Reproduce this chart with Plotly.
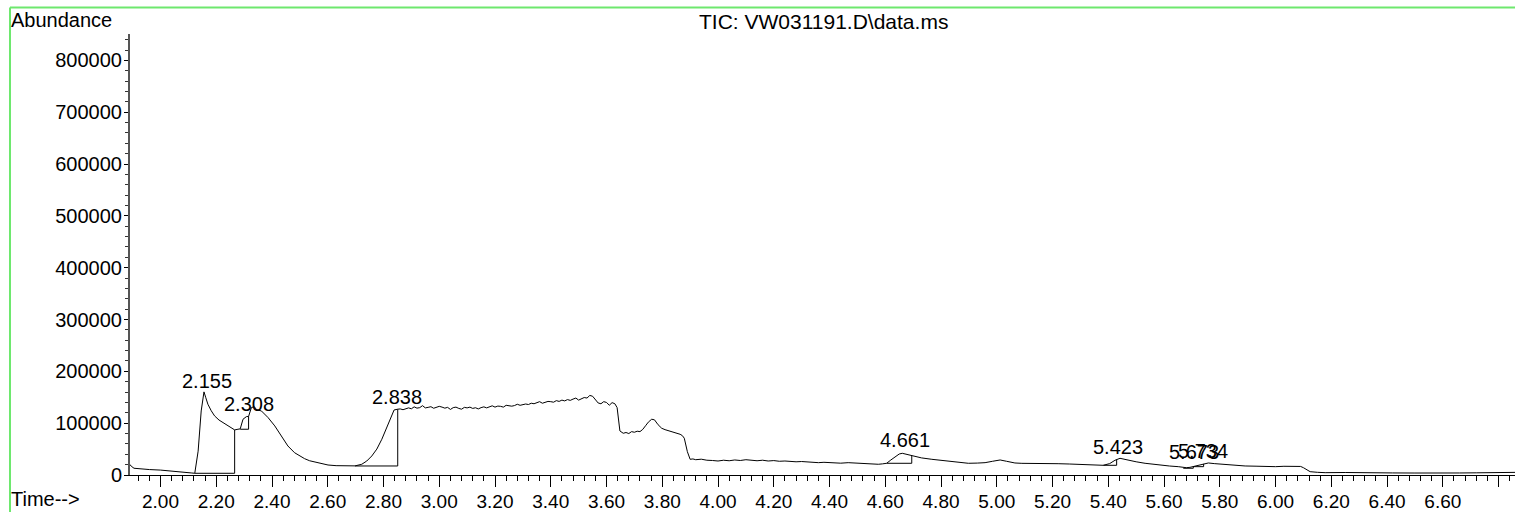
import numpy as np
import plotly.graph_objects as go

# ---- chromatogram trace (retention time in min, abundance) ----
rt_min = [
    1.890, 1.895, 1.905, 1.930, 1.960, 2.000, 2.040, 2.080, 2.110, 2.123,
    2.135, 2.146, 2.156, 2.162, 2.170, 2.182, 2.194, 2.210, 2.230, 2.250,
    2.266, 2.278, 2.286, 2.296, 2.308, 2.316, 2.326, 2.336, 2.345, 2.362,
    2.386, 2.410, 2.433, 2.457, 2.481, 2.500, 2.517, 2.535, 2.553, 2.580,
    2.601, 2.630, 2.661, 2.685, 2.698, 2.722, 2.740, 2.758, 2.776, 2.794,
    2.806, 2.817, 2.828, 2.838, 2.851,
    2.86, 2.87, 2.88, 2.89, 2.90, 2.91, 2.92, 2.93, 2.94, 2.95,
    2.96, 2.97, 2.98, 2.99, 3.00, 3.01, 3.02, 3.03, 3.04, 3.05,
    3.06, 3.07, 3.08, 3.09, 3.10, 3.11, 3.12, 3.13, 3.14, 3.15,
    3.16, 3.17, 3.18, 3.19, 3.20, 3.21, 3.22, 3.23, 3.24, 3.25,
    3.26, 3.27, 3.28, 3.29, 3.30, 3.31, 3.32, 3.33, 3.34, 3.35,
    3.36, 3.37, 3.38, 3.39, 3.40, 3.41, 3.42, 3.43, 3.44, 3.45,
    3.46, 3.47, 3.48, 3.49, 3.50, 3.51, 3.52, 3.53, 3.54, 3.55,
    3.56, 3.57, 3.58, 3.59, 3.60, 3.61, 3.62, 3.63, 3.638, 3.648,
    3.66, 3.67, 3.68, 3.69, 3.70, 3.71, 3.72, 3.73, 3.74, 3.75,
    3.762, 3.772, 3.785, 3.798, 3.81, 3.82, 3.834, 3.85, 3.864, 3.872,
    3.879, 3.89, 3.900, 3.91, 3.92, 3.94, 3.96, 3.98, 4.00, 4.02,
    4.04, 4.06, 4.08, 4.10, 4.12, 4.14, 4.16, 4.18, 4.20, 4.22,
    4.24, 4.26, 4.28, 4.30, 4.32, 4.34, 4.36, 4.38, 4.40, 4.42,
    4.44, 4.467, 4.50, 4.53, 4.56, 4.575, 4.59, 4.605, 4.62, 4.635,
    4.65, 4.661, 4.672, 4.683, 4.695, 4.707, 4.73, 4.767, 4.80, 4.826,
    4.86, 4.898, 4.93, 4.958, 4.985, 5.012, 5.035, 5.065, 5.09, 5.125,
    5.155, 5.185, 5.22, 5.26, 5.293, 5.33, 5.36, 5.382, 5.405, 5.424,
    5.442, 5.46, 5.472, 5.50, 5.532, 5.56, 5.592, 5.62, 5.651, 5.669,
    5.680, 5.693, 5.705, 5.72, 5.735, 5.759, 5.78, 5.807, 5.84, 5.87,
    5.891, 5.93, 5.96, 6.00, 6.03, 6.07, 6.09, 6.10, 6.112, 6.124,
    6.15, 6.178, 6.25, 6.30, 6.357, 6.42, 6.50, 6.596, 6.66, 6.72,
    6.78, 6.859,
]
abundance = [
    20500, 17000, 13000, 11500, 10500, 9500, 8000, 6000, 4000, 3300,
    46000, 123600, 160400, 150000, 136600, 124000, 114000, 106000, 99000, 91000,
    87000, 88300, 89000, 107600, 112600, 113000, 130000, 132000, 126000, 123600,
    110700, 94700, 75300, 56000, 43000, 36000, 31500, 27500, 25100, 21500,
    19300, 18000, 17400, 18200, 17600, 20700, 27000, 36700, 50000, 69000,
    85000, 101000, 115000, 125500, 127000,
    127500, 126000, 128500, 129500, 127800, 131500, 129000, 130000, 133800, 129500,
    130500, 131800, 128800, 130000, 132500, 131000, 129000, 130500, 126500, 130000,
    131000, 128500, 127000, 130500, 129500, 131000, 128500, 129800, 127500, 130000,
    131500, 129500, 132000, 133500, 131000, 133000, 132500, 131000, 134500, 133500,
    132800, 134000, 136500, 134500, 135500, 137000, 136000, 138500, 137500, 139000,
    141500, 138500, 140000, 142000, 141500, 140500, 143500, 142000, 144500, 143000,
    145500, 144000, 146500, 148500, 144500, 147000, 149500, 148500, 153500, 152000,
    146000, 139000, 137500, 141500, 140000, 134600, 139700, 137500, 130000, 85000,
    80500, 82000, 80000, 83700, 82500, 84500, 83700, 88000, 95000, 102000,
    107600, 106500, 97000, 90200, 87500, 86000, 83100, 81000, 78600, 76000,
    71000, 45000, 30300, 31000, 29500, 30500, 28500, 28000, 27000, 28500,
    27500, 29000, 28000, 29500, 28500, 27500, 28500, 27000, 27800, 26500,
    27000, 26000, 25500, 26000, 24800, 24000, 23800, 24500, 23500, 23800,
    22800, 23800, 22500, 22000, 21000, 20700, 21500, 22600, 29000, 35400,
    40500, 41900, 40500, 38000, 36700, 35400, 33000, 30300, 28500, 27000,
    25000, 22600, 23000, 23800, 26500, 29000, 26500, 23200, 22500, 22600,
    23000, 22800, 21800, 21200, 20700, 19800, 19200, 18700, 22000, 28400,
    32200, 30000, 28400, 25500, 22600, 20500, 18700, 17300, 16100, 14500,
    14100, 14800, 16100, 18500, 20700, 23200, 22000, 20700, 19500, 18200,
    17400, 17000, 16500, 16100, 16800, 17400, 16500, 14100, 9500, 6400,
    5200, 4500, 4800, 4300, 4500, 4000, 3800, 3300, 3900, 4200,
    4600, 5100,
]

# ---- integrated peaks ----
peak_labels = ["2.155", "2.308", "2.838", "4.661", "5.423", "5.673", "5.734"]
peak_rt = [2.155, 2.308, 2.838, 4.661, 5.423, 5.673, 5.734]
base_start = [2.123, 2.286, 2.698, 4.605, 5.382, 5.669, 5.705]
base_end = [2.266, 2.316, 2.851, 4.695, 5.430, 5.705, 5.742]
base_level = [3300, 88300, 17400, 22600, 18700, 13000, 16100]

# ---- axes ----
x_tick_vals = [2.0, 2.2, 2.4, 2.6, 2.8, 3.0, 3.2, 3.4, 3.6, 3.8, 4.0, 4.2,
               4.4, 4.6, 4.8, 5.0, 5.2, 5.4, 5.6, 5.8, 6.0, 6.2, 6.4, 6.6, 6.8]
x_tick_text = ["2.00", "2.20", "2.40", "2.60", "2.80", "3.00", "3.20", "3.40",
               "3.60", "3.80", "4.00", "4.20", "4.40", "4.60", "4.80", "5.00",
               "5.20", "5.40", "5.60", "5.80", "6.00", "6.20", "6.40", "6.60", ""]
y_tick_vals = [0, 100000, 200000, 300000, 400000, 500000, 600000, 700000, 800000]
y_tick_text = ["0", "100000", "200000", "300000", "400000", "500000",
               "600000", "700000", "800000"]

FONT = "Liberation Sans, Arial, sans-serif"
t_arr = np.array(rt_min)
v_arr = np.array(abundance)

fig = go.Figure()
fig.add_trace(go.Scatter(x=rt_min, y=abundance, mode="lines",
                         line=dict(color="black", width=1), hoverinfo="skip"))

# integration baselines and end drop-lines
bx, by = [], []
for s, e, lvl in zip(base_start, base_end, base_level):
    top = float(np.interp(e, t_arr, v_arr))
    bx += [s, e, e, None]
    by += [lvl, lvl, top, None]
fig.add_trace(go.Scatter(x=bx, y=by, mode="lines",
                         line=dict(color="black", width=1), hoverinfo="skip"))

for lab, rt in zip(peak_labels, peak_rt):
    apex = float(np.interp(rt, t_arr, v_arr))
    ys, xs = 0, 3
    if lab == "5.673":
        ys, xs = 3, 10
    elif lab == "5.734":
        ys, xs = 0, 2
    fig.add_annotation(x=rt, y=apex, text=lab, showarrow=False,
                       xanchor="center", yanchor="bottom", xshift=xs, yshift=ys,
                       font=dict(family=FONT, size=20, color="black"))

L, R, T, B = 130, 0, 34, 37
W, H = 1515, 512
pw, ph = W - L - R, H - T - B

def px(x):
    return (x - L) / pw

def py(y):
    return (H - B - y) / ph

fig.add_annotation(xref="paper", yref="paper", x=px(823), y=py(22),
                   text="TIC: VW031191.D\\data.ms", showarrow=False,
                   xanchor="center", yanchor="middle",
                   font=dict(family=FONT, size=21, color="black"))
fig.add_annotation(xref="paper", yref="paper", x=px(9), y=py(20),
                   text="Abundance", showarrow=False,
                   xanchor="left", yanchor="middle",
                   font=dict(family=FONT, size=20, color="black"))
fig.add_annotation(xref="paper", yref="paper", x=px(9), y=py(499),
                   text="Time-->", showarrow=False,
                   xanchor="left", yanchor="middle",
                   font=dict(family=FONT, size=20, color="black"))

green = "#6ee86e"
fig.add_shape(type="line", xref="paper", yref="paper",
              x0=px(10), x1=px(1515), y0=py(7.5), y1=py(7.5),
              line=dict(color=green, width=2))
fig.add_shape(type="line", xref="paper", yref="paper",
              x0=px(10), x1=px(10), y0=py(7.5), y1=py(512),
              line=dict(color=green, width=2))

fig.update_layout(
    width=W, height=H,
    margin=dict(l=L, r=R, t=T, b=B, pad=0, autoexpand=False),
    paper_bgcolor="white", plot_bgcolor="white",
    showlegend=False,
    font=dict(family=FONT, size=20, color="black"),
    xaxis=dict(range=[1.8906, 6.859], showgrid=False, zeroline=False,
               automargin=False,
               showline=True, linecolor="black", linewidth=1,
               tickmode="array", tickvals=x_tick_vals, ticktext=x_tick_text,
               ticks="outside", ticklen=11, tickwidth=1, tickcolor="black",
               ticklabelstandoff=-2,
               tickfont=dict(family=FONT, size=19, color="black"),
               minor=dict(dtick=0.04, tick0=2.0, ticks="outside", ticklen=5,
                          tickwidth=1, tickcolor="black", showgrid=False)),
    yaxis=dict(range=[0, 851000], showgrid=False, zeroline=False,
               automargin=False,
               showline=True, linecolor="#555555", linewidth=2,
               tickmode="array", tickvals=y_tick_vals, ticktext=y_tick_text,
               ticks="outside", ticklen=4, tickwidth=1, tickcolor="black",
               ticklabelstandoff=-2,
               tickfont=dict(family=FONT, size=20, color="black"),
               minor=dict(dtick=20000, tick0=0, ticks="outside", ticklen=3,
                          tickwidth=1, tickcolor="#333333", showgrid=False)),
)

fig.write_html(
    "out.html",
    config={"responsive": False, "displayModeBar": False},
    post_script="document.body.style.margin='0';document.body.style.padding='0';"
                "document.body.style.overflow='hidden';",
)
